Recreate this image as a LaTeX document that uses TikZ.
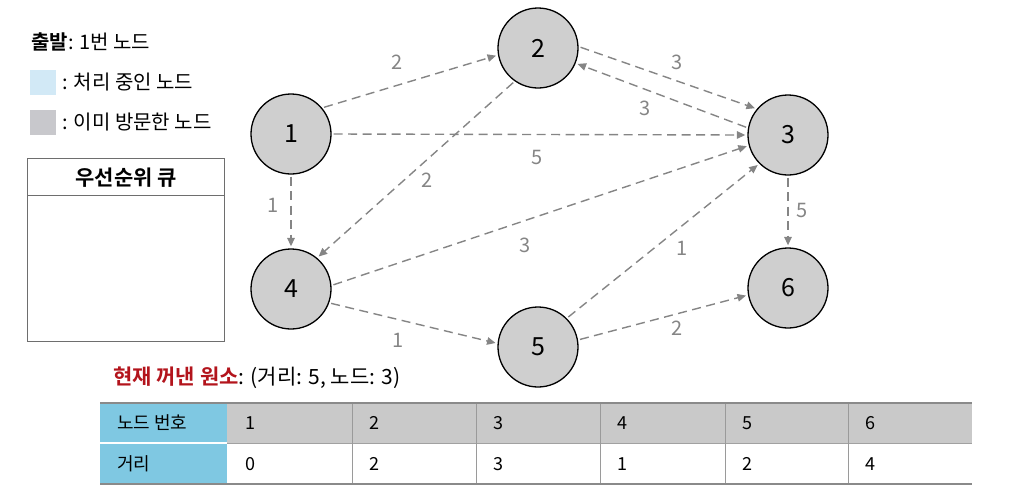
\documentclass[tikz,border=0pt]{standalone}
\usepackage{fontspec}
\setmainfont{Noto Sans CJK KR}[BoldFont={Noto Sans CJK KR Bold}]
\usetikzlibrary{arrows.meta}
\definecolor{edgegray}{HTML}{858585}
\definecolor{nodegray}{HTML}{CFCFCF}
\definecolor{legblue}{HTML}{D2E9F6}
\definecolor{leggray}{HTML}{C8C8CC}
\definecolor{qgray}{HTML}{6E6E6E}
\definecolor{tblue}{HTML}{7FC8E2}
\definecolor{tgray}{HTML}{C9C9C9}
\definecolor{tline}{HTML}{9A9A9A}
\definecolor{tborder}{HTML}{8A8A8A}
\definecolor{hotred}{HTML}{B3141C}
\begin{document}
\begin{tikzpicture}[x=1pt,y=-1pt,
  vert/.style={circle, draw=black, line width=1.3pt, fill=nodegray, minimum size=80pt, inner sep=0pt, font=\fontsize{25}{25}\selectfont},
  edge/.style={draw=edgegray, line width=1.4pt, dash pattern=on 9pt off 5.5pt, -{Triangle[length=8.5pt,width=7.5pt]}, shorten >=2pt, shorten <=2pt},
  elabel/.style={text=edgegray, font=\fontsize{20}{20}\selectfont, inner sep=0pt},
  legtext/.style={anchor=west, inner sep=0pt, font=\fontsize{20}{20}\selectfont},
  legbox/.style={anchor=north west, minimum width=26pt, minimum height=25pt, inner sep=0pt},
  ttext/.style={anchor=west, inner sep=0pt, font=\fontsize{18}{18}\selectfont}
]
\useasboundingbox (0,0) rectangle (1014,493);

% ---------- legend ----------
\node[legtext] (start) at (31,42) {\textbf{출발}: 1번 노드};
\node[legbox, fill=legblue] (lblue) at (30,70) {};
\node[legtext] (tblue) at (62,82) {: 처리 중인 노드};
\node[legbox, fill=leggray] (lgray) at (30,110) {};
\node[legtext] (tgray) at (62,122) {: 이미 방문한 노드};

% ---------- priority queue ----------
\node[anchor=north west, draw=qgray, line width=1.4pt, minimum width=197pt, minimum height=37pt, inner sep=0pt] (qhead) at (27,158) {};
\node[anchor=north west, draw=qgray, line width=1.4pt, minimum width=197pt, minimum height=146pt, inner sep=0pt] (qbody) at (27,195) {};
\node[font=\fontsize{21}{21}\selectfont\bfseries, inner sep=0pt] (qtitle) at (qhead.center) {우선순위 큐};

% ---------- graph ----------
\node[vert] (n1) at (291,134) {1};
\node[vert] (n2) at (538,48) {2};
\node[vert] (n3) at (788,135) {3};
\node[vert] (n4) at (291,289) {4};
\node[vert] (n5) at (538,347) {5};
\node[vert] (n6) at (788,288) {6};

\draw[edge] (n1.40) -- (n2.190);
\draw[edge] (n1.east) -- (n3.west);
\draw[edge] (n1.south) -- (n4.north);
\draw[edge] (n2.2) -- (n3.140);
\draw[edge] (n3.170) -- (n2.-22);
\draw[edge] (n2.235) -- (n4.50);
\draw[edge] (n4.5) -- (n3.195);
\draw[edge] (n4.-20) -- (n5.175);
\draw[edge] (n5.45) -- (n3.225);
\draw[edge] (n5.10) -- (n6.190);
\draw[edge] (n3.south) -- (n6.north);

\node[elabel] (l12) at (397,62) {2};
\node[elabel] (l13) at (537,157) {5};
\node[elabel] (l14) at (273,205) {1};
\node[elabel] (l23) at (677,62) {3};
\node[elabel] (l32) at (645,108) {3};
\node[elabel] (l24) at (427,180) {2};
\node[elabel] (l43) at (525,245) {3};
\node[elabel] (l45) at (398,340) {1};
\node[elabel] (l53) at (682,248) {1};
\node[elabel] (l56) at (677,328) {2};
\node[elabel] (l36) at (802,210) {5};

% ---------- current element ----------
\node[legtext, font=\fontsize{21}{21}\selectfont] (cur) at (113,378) {\textcolor{hotred}{\textbf{현재 꺼낸 원소}}: (거리: 5, 노드: 3)};

% ---------- table ----------
\fill[tblue] (100,403) rectangle (227,484);
\fill[tgray] (227,403) rectangle (972,443);
\draw[white, line width=1.2pt] (100,443) -- (227,443);
\draw[tgray!80!black, line width=0.6pt] (227,443) -- (972,443);
\foreach \x in {352,476,600,725,848} {
  \draw[tline, line width=1pt] (\x,403) -- (\x,484);
}
\draw[tborder, line width=1.6pt] (100,403) -- (972,403);
\draw[tborder, line width=1.6pt] (100,484) -- (972,484);

\node[ttext] (h0) at (117,423) {노드 번호};
\node[ttext] (d0) at (117,464) {거리};
\node[ttext] (h1) at (245,423) {1};
\node[ttext] (h2) at (369,423) {2};
\node[ttext] (h3) at (493,423) {3};
\node[ttext] (h4) at (617,423) {4};
\node[ttext] (h5) at (742,423) {5};
\node[ttext] (h6) at (865,423) {6};
\node[ttext] (d1) at (245,464) {0};
\node[ttext] (d2) at (369,464) {2};
\node[ttext] (d3) at (493,464) {3};
\node[ttext] (d4) at (617,464) {1};
\node[ttext] (d5) at (742,464) {2};
\node[ttext] (d6) at (865,464) {4};
\end{tikzpicture}
\end{document}
